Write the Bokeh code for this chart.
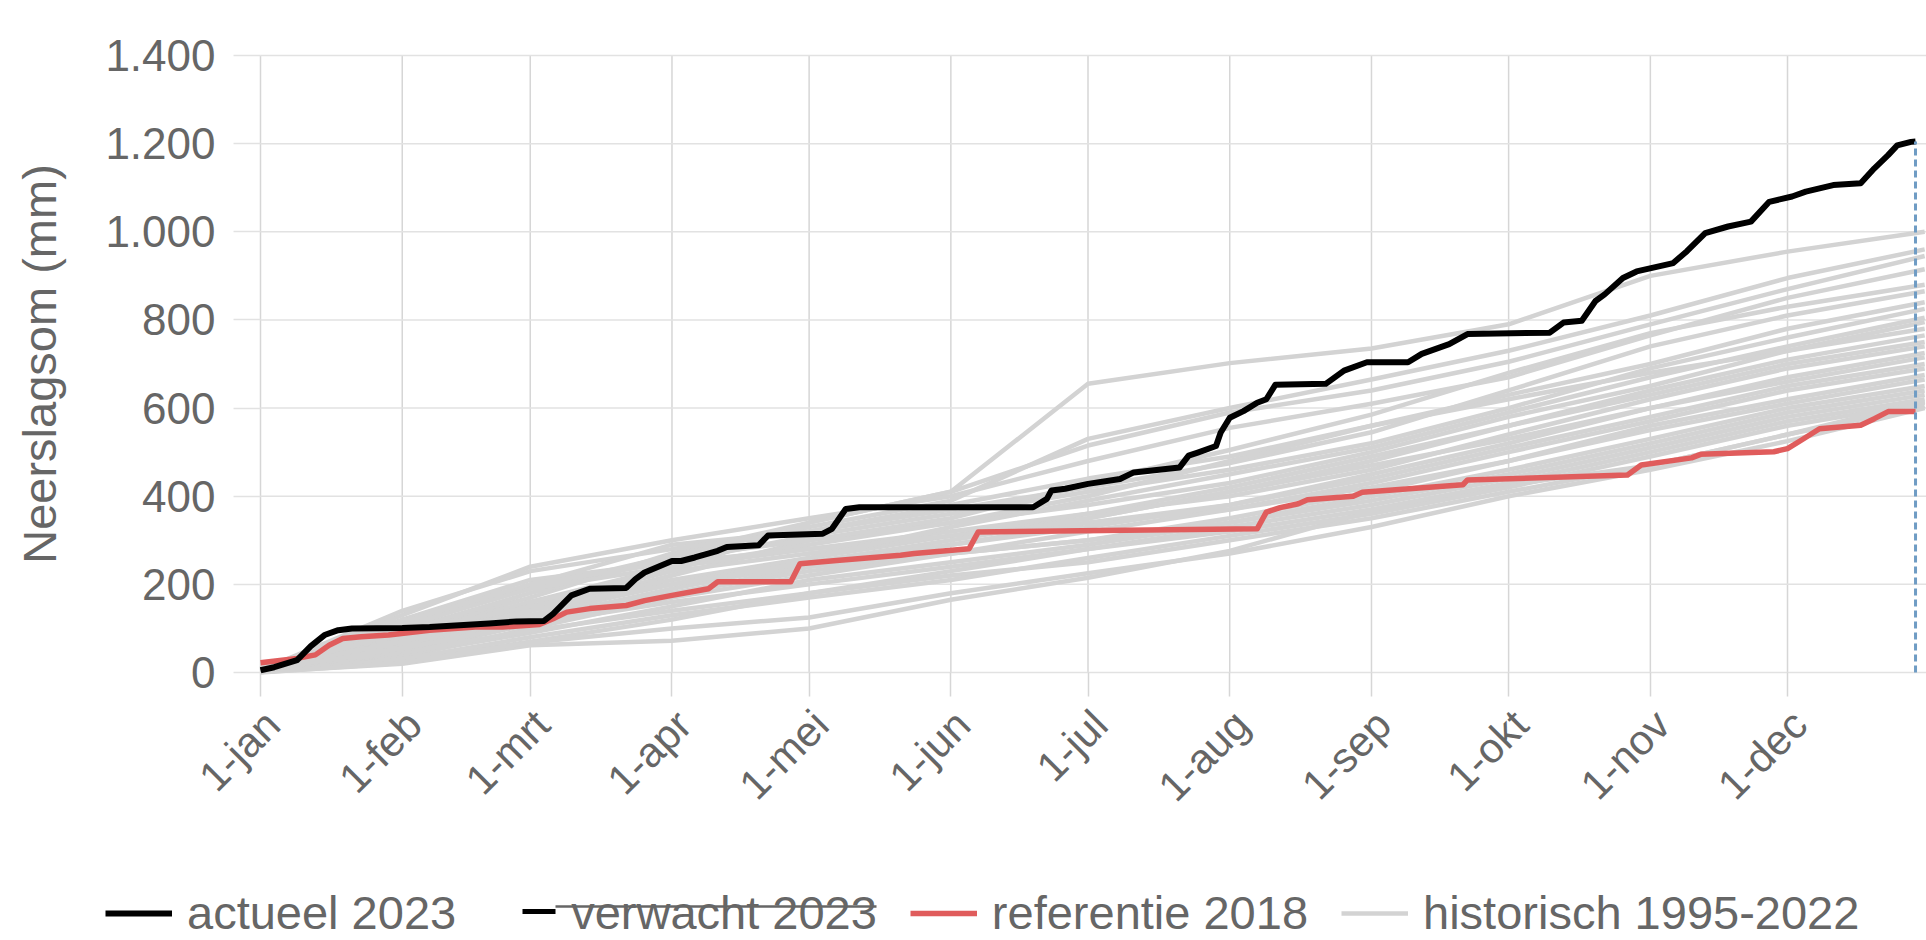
import math
from bokeh.plotting import figure
from bokeh.models import Range1d, FixedTicker, LinearAxis, Legend, LegendItem
from bokeh.embed import file_html
from bokeh.resources import INLINE

# ---------------- data ----------------
maand_dagen = [0, 31, 59, 90, 120, 151, 181, 212, 243, 273, 304, 334]
maand_labels = ["1-jan", "1-feb", "1-mrt", "1-apr", "1-mei", "1-jun",
                "1-jul", "1-aug", "1-sep", "1-okt", "1-nov", "1-dec"]
y_ticks = [0, 200, 400, 600, 800, 1000, 1200, 1400]
y_labels = ["0", "200", "400", "600", "800", "1.000", "1.200", "1.400"]
jaar_einde = 364.4   # right edge of the chart (31 dec)

# actueel 2023 (day of year, cumulative mm)
actueel_dag = [0, 3, 8, 11, 14, 17, 20, 31, 37, 50, 56, 62, 64, 68, 72, 80, 82, 84, 90, 92,
               95, 100, 102, 109, 111, 123, 125, 128, 131, 169, 172, 173, 176, 181, 188, 191,
               201, 203, 205, 209, 210, 212, 215, 218, 220, 222, 233, 237, 242, 251, 254, 260,
               264, 282, 285, 289, 292, 294, 298, 301, 309, 312, 316, 321, 326, 330, 335, 338,
               344, 350, 353, 356, 358, 361, 362]
actueel_mm = [5, 12, 28, 60, 85, 96, 100, 101, 103, 111, 116, 117, 133, 175, 190, 192, 212, 227,
              253, 253, 261, 276, 285, 289, 311, 315, 326, 371, 375, 375, 394, 413, 417, 428,
              439, 454, 465, 492, 499, 514, 544, 578, 593, 612, 620, 653, 655, 685, 704, 704,
              723, 745, 768, 771, 794, 798, 843, 858, 895, 910, 929, 956, 997, 1012, 1023,
              1068, 1080, 1091, 1106, 1110, 1144, 1174, 1196, 1204, 1205]

# referentie 2018
referentie_dag = [0, 8, 12, 15, 18, 22, 28, 37, 47, 53, 61, 64, 67, 72, 80, 84, 90, 98, 100, 116,
                  118, 126, 140, 143, 155, 157, 218, 220, 223, 227, 229, 239, 241, 263, 264, 299,
                  302, 313, 315, 331, 334, 337, 341, 350, 353, 356, 362]
referentie_mm = [22, 32, 40, 62, 77, 81, 85, 96, 103, 103, 109, 122, 137, 145, 152, 163, 175, 190,
                 206, 206, 247, 254, 266, 270, 281, 319, 326, 364, 374, 383, 392, 400, 409, 426,
                 437, 448, 471, 487, 495, 501, 508, 527, 553, 561, 576, 592, 592]

# historisch 1995-2022 (values at the first of each month and at 31 dec)
historisch_dag = [0, 31, 59, 90, 120, 151, 181, 212, 243, 273, 304, 334, 364]
h1995 = [5, 65, 130, 180, 230, 270, 300, 350, 410, 480, 550, 610, 665]
h1996 = [2, 35, 100, 170, 220, 270, 320, 370, 430, 500, 570, 640, 690]
h1997 = [3, 40, 90, 150, 210, 250, 290, 340, 400, 460, 530, 600, 650]
h1998 = [8, 70, 150, 230, 340, 410, 655, 702, 735, 790, 900, 955, 1000]
h1999 = [9, 120, 210, 250, 310, 360, 410, 460, 520, 600, 690, 760, 825]
h2000 = [6, 60, 140, 220, 300, 350, 430, 505, 585, 680, 770, 830, 880]
h2001 = [10, 90, 170, 270, 340, 410, 515, 590, 640, 705, 790, 870, 945]
h2002 = [3, 130, 240, 300, 350, 400, 480, 555, 610, 670, 765, 850, 915]
h2003 = [1, 25, 70, 120, 180, 230, 280, 330, 380, 440, 510, 580, 630]
h2004 = [7, 95, 180, 260, 300, 340, 380, 430, 500, 580, 650, 730, 795]
h2005 = [11, 75, 150, 210, 260, 310, 360, 420, 490, 560, 640, 710, 765]
h2006 = [4, 45, 110, 180, 240, 290, 340, 380, 450, 520, 600, 670, 725]
h2007 = [12, 100, 200, 290, 320, 370, 420, 475, 545, 640, 740, 810, 865]
h2008 = [4, 80, 160, 240, 290, 340, 400, 480, 560, 630, 700, 780, 840]
h2009 = [6, 45, 95, 140, 180, 220, 250, 300, 350, 410, 470, 540, 605]
h2010 = [5, 110, 190, 265, 330, 390, 530, 600, 665, 730, 810, 895, 960]
h2011 = [1, 20, 62, 72, 100, 165, 215, 276, 366, 425, 470, 540, 615]
h2012 = [5, 140, 230, 280, 320, 380, 440, 490, 560, 620, 680, 730, 780]
h2013 = [2, 30, 80, 130, 170, 210, 260, 310, 360, 420, 490, 560, 612]
h2014 = [8, 105, 190, 240, 280, 320, 360, 400, 460, 540, 620, 690, 740]
h2015 = [10, 85, 160, 230, 270, 310, 350, 410, 470, 530, 600, 660, 715]
h2016 = [9, 115, 200, 250, 280, 310, 340, 370, 420, 480, 560, 620, 675]
h2017 = [3, 60, 120, 190, 250, 300, 350, 410, 480, 560, 630, 700, 750]
h2018 = [0, 22, 68, 100, 125, 180, 225, 270, 330, 400, 460, 525, 600]
h2019 = [2, 50, 130, 200, 260, 330, 390, 450, 510, 590, 670, 740, 805]
h2020 = [7, 90, 150, 200, 240, 270, 300, 340, 390, 450, 520, 590, 640]
h2021 = [6, 70, 140, 200, 250, 290, 330, 380, 440, 510, 580, 650, 700]
h2022 = [4, 55, 110, 160, 200, 240, 280, 320, 370, 430, 500, 570, 620]
historisch = [h1995, h1996, h1997, h1998, h1999, h2000, h2001, h2002, h2003, h2004,
              h2005, h2006, h2007, h2008, h2009, h2010, h2011, h2012, h2013, h2014,
              h2015, h2016, h2017, h2018, h2019, h2020, h2021, h2022]

legenda_labels = ["actueel 2023", "verwacht 2023", "referentie 2018", "historisch 1995-2022"]

# ---------------- layout / styles ----------------
W, H = 1926, 940
KADER_L, KADER_B, KADER_T = 260, 672, 55      # pixel position of 1-jan, 0 mm and 1400 mm
PX_PER_DAG = (W - KADER_L) / jaar_einde
PX_PER_MM = (KADER_B - KADER_T) / y_ticks[-1]
LEGENDA_Y = 911                               # pixel row of the legend symbols

FONT = "Liberation Sans"
TXT = "#666666"
ROOD = "#e05c5c"
GRIJS = "#d3d3d3"
RASTER_V = "#d6d6d6"
RASTER_H = "#e2e2e2"


def dx(px):
    """canvas pixel x -> data x"""
    return (px - KADER_L) / PX_PER_DAG


def dy(py):
    """canvas pixel y -> data y"""
    return (KADER_B - py) / PX_PER_MM


# the whole canvas is the plot frame; axes are pinned at 1-jan / 0 mm
p = figure(width=W, height=H,
           x_range=Range1d(dx(0), dx(W)), y_range=Range1d(dy(H), dy(0)),
           output_backend="svg", toolbar_location=None, min_border=0)
p.outline_line_color = None
p.grid.visible = False

# grid lines of the chart area
p.segment(x0=maand_dagen, y0=[0] * len(maand_dagen), x1=maand_dagen,
          y1=[y_ticks[-1]] * len(maand_dagen), line_color=RASTER_V, line_width=1.5)
p.segment(x0=[0] * len(y_ticks), y0=y_ticks, x1=[jaar_einde] * len(y_ticks), y1=y_ticks,
          line_color=RASTER_H, line_width=1.5)

r_hist = p.multi_line(xs=[historisch_dag] * len(historisch), ys=historisch,
                      line_color=GRIJS, line_width=4.5, line_join="round")
r_ref = p.line(referentie_dag, referentie_mm, line_color=ROOD, line_width=5.5, line_join="round")
r_act = p.line(actueel_dag, actueel_mm, line_color="#000000", line_width=6, line_join="round")
# hidden series "verwacht 2023" (only listed, struck through, in the legend)
r_verw = p.line(x=[], y=[], line_color="#000000", line_width=5)
p.segment(x0=[actueel_dag[-1]], y0=[0], x1=[actueel_dag[-1]], y1=[actueel_mm[-1]],
          line_color="#6f9cc4", line_width=3, line_dash="7 4")

# x axis 1: month ticks (short marks below the chart)
xa = p.xaxis[0]
xa.fixed_location = 0
xa.bounds = (0, jaar_einde)
xa.ticker = FixedTicker(ticks=maand_dagen)
xa.major_label_overrides = {d: "" for d in maand_dagen}
xa.major_label_text_font_size = "1px"
xa.axis_line_color = None
xa.major_tick_in = 0
xa.major_tick_out = 24
xa.minor_tick_line_color = None
xa.major_tick_line_color = RASTER_V
xa.major_tick_line_width = 1.5

# x axis 2: rotated month labels, anchored a little right of each tick as in the original
label_verschuiving = 12 / PX_PER_DAG
label_posities = [d + label_verschuiving for d in maand_dagen]
xa2 = LinearAxis(fixed_location=0, bounds=(0, jaar_einde),
                 ticker=FixedTicker(ticks=label_posities),
                 major_label_overrides=dict(zip(label_posities, maand_labels)),
                 major_label_orientation=math.pi / 4,
                 axis_line_color=None, major_tick_line_color=None, minor_tick_line_color=None,
                 major_tick_in=0, major_tick_out=0, major_label_standoff=45,
                 major_label_text_font=FONT, major_label_text_font_size="42px",
                 major_label_text_color=TXT)
p.add_layout(xa2, "below")

# y axis
ya = p.yaxis[0]
ya.fixed_location = 0
ya.bounds = (0, y_ticks[-1])
ya.ticker = FixedTicker(ticks=y_ticks)
ya.major_label_overrides = dict(zip(y_ticks, y_labels))
ya.axis_line_color = None
ya.major_tick_in = 0
ya.major_tick_out = 27
ya.minor_tick_line_color = None
ya.major_tick_line_color = RASTER_H
ya.major_tick_line_width = 1.5
ya.major_label_text_font = FONT
ya.major_label_text_font_size = "44px"
ya.major_label_text_color = TXT
ya.major_label_standoff = 18
ya.axis_label = "Neerslagsom (mm)"
ya.axis_label_text_font = FONT
ya.axis_label_text_font_style = "normal"
ya.axis_label_text_font_size = "47px"
ya.axis_label_text_color = TXT
ya.axis_label_standoff = 36

# ---------------- legend ----------------
legend = Legend(items=[LegendItem(label=legenda_labels[0], renderers=[r_act]),
                       LegendItem(label=legenda_labels[1], renderers=[r_verw]),
                       LegendItem(label=legenda_labels[2], renderers=[r_ref]),
                       LegendItem(label=legenda_labels[3], renderers=[r_hist])],
                orientation="horizontal", location=(105, 0),
                label_text_font=FONT, label_text_font_size="47px", label_text_color=TXT,
                glyph_width=67, glyph_height=20, label_standoff=15, spacing=33,
                padding=0, margin=0, border_line_color=None, background_fill_alpha=0)
p.add_layout(legend)

# dashed-line symbol of "verwacht 2023" and the strikethrough of its (hidden) label
p.segment(x0=[dx(522)], y0=[dy(LEGENDA_Y)], x1=[dx(555)], y1=[dy(LEGENDA_Y)],
          line_color="#000000", line_width=5)
p.segment(x0=[dx(555)], y0=[dy(LEGENDA_Y - 5)], x1=[dx(876)], y1=[dy(LEGENDA_Y - 5)],
          line_color=TXT, line_width=2.5)

open("out.html", "w").write(file_html(p, INLINE))
